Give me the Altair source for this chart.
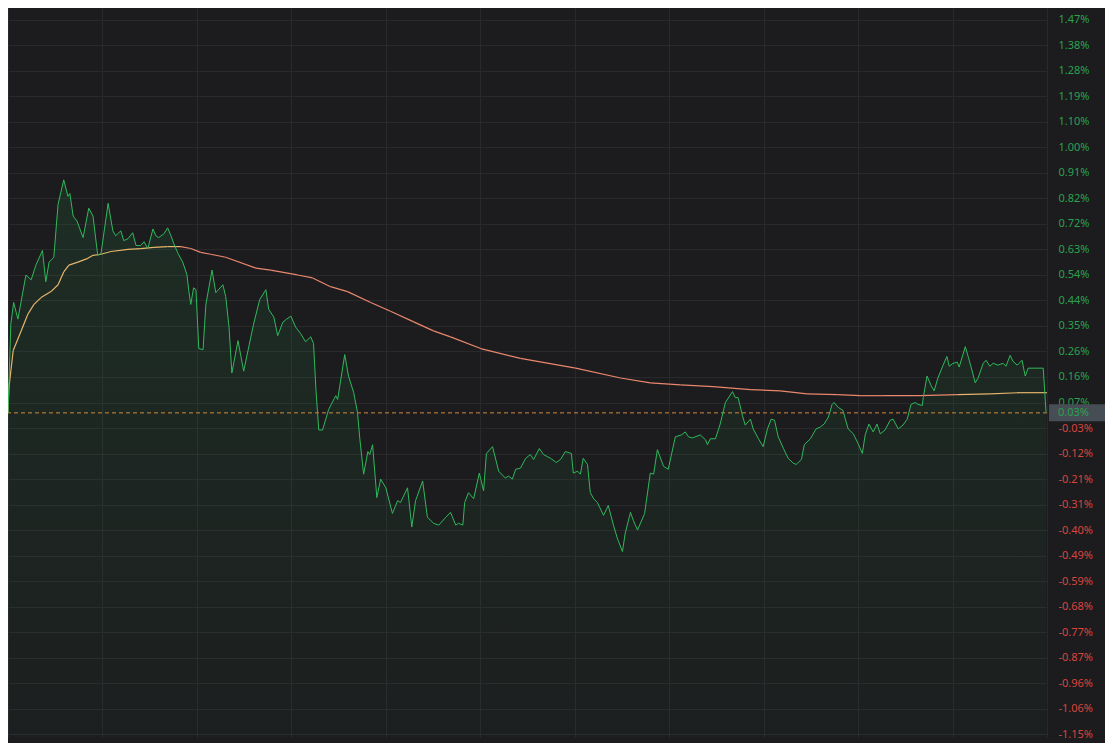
import altair as alt
import numpy as np
import pandas as pd

# ---- data (minutes since open, % change) ----
PRICE_T = [0.0, 0.6, 1.2, 2.1, 3.8, 4.9, 5.9, 7.3, 8.0, 8.7, 9.7, 10.6, 11.8, 12.7, 13.1, 13.8, 14.6, 15.9, 17.1, 18.0,
           19.0, 19.7, 21.2, 22.2, 22.8, 23.9, 24.5, 25.4, 26.4, 27.1, 28.1, 28.8, 29.6, 30.7, 31.3, 31.9, 33.0, 33.8, 34.5, 35.1,
           36.0, 37.0, 37.9, 38.3, 38.7, 39.3, 39.8, 40.4, 41.3, 41.9, 43.2, 44.0, 45.5, 46.1, 46.8, 47.4, 48.7, 49.9, 52.0, 53.3,
           54.6, 55.2, 56.3, 57.1, 58.2, 59.0, 59.9, 60.9, 62.0, 63.0, 64.1, 64.7, 65.2, 65.8, 66.6, 67.9, 69.4, 69.8, 71.3, 72.1,
           73.2, 74.0, 74.5, 75.3, 76.2, 76.6, 77.2, 78.1, 78.9, 80.0, 81.4, 82.5, 83.1, 84.6, 85.5, 86.3, 87.8, 88.8, 90.1, 91.2,
           92.7, 93.7, 94.8, 95.4, 96.3, 96.7, 97.5, 98.6, 99.8, 100.7, 101.3, 102.6, 103.9, 105.3, 106.0, 106.8, 107.5, 108.5, 109.6, 110.6,
           111.3, 112.5, 113.4, 114.9, 116.1, 117.0, 118.0, 119.3, 119.7, 120.6, 121.2, 121.8, 122.7, 123.3, 124.0, 124.8, 126.1, 127.1, 128.2, 129.0,
           130.1, 130.7, 131.8, 132.4, 133.3, 134.8, 136.0, 136.7, 137.5, 138.8, 139.8, 141.3, 142.6, 143.4, 144.1, 144.9, 146.6, 147.7, 148.1, 148.7,
           149.8, 150.8, 151.9, 153.4, 154.0, 154.6, 155.5, 156.1, 157.2, 157.8, 158.9, 159.9, 160.8, 161.6, 162.3, 163.1, 164.2, 165.2, 166.3, 166.9,
           168.0, 168.6, 169.9, 171.1, 172.0, 172.8, 173.7, 174.5, 174.9, 175.8, 176.8, 177.3, 177.9, 179.0, 180.0, 180.9, 181.5, 182.3, 183.2, 184.0,
           184.7, 185.7, 186.8, 187.4, 188.5, 189.5, 190.4, 191.2, 192.1, 192.7, 193.6, 193.8, 194.6, 195.5, 196.1, 196.9, 198.0, 198.8, 199.3, 200.1,
           201.0, 201.4, 202.7, 203.3, 204.1, 204.8, 205.4, 206.5, 207.1, 207.9, 208.6, 209.6, 210.7, 211.3, 212.2, 212.8, 213.7, 214.7, 215.4, 216.0,
           217.0, 218.1, 219.2, 219.8]
PRICE_V = [0.030, 0.356, 0.435, 0.374, 0.536, 0.518, 0.572, 0.626, 0.511, 0.583, 0.601, 0.795, 0.885, 0.824, 0.835, 0.752, 0.734, 0.673, 0.781, 0.752,
           0.608, 0.615, 0.799, 0.698, 0.680, 0.698, 0.662, 0.669, 0.691, 0.644, 0.644, 0.658, 0.633, 0.705, 0.680, 0.673, 0.687, 0.709, 0.680, 0.651,
           0.615, 0.583, 0.536, 0.475, 0.428, 0.489, 0.482, 0.266, 0.262, 0.428, 0.554, 0.471, 0.500, 0.457, 0.345, 0.176, 0.295, 0.183, 0.356, 0.446,
           0.482, 0.410, 0.381, 0.313, 0.363, 0.374, 0.385, 0.345, 0.320, 0.291, 0.309, 0.284, 0.115, -0.033, -0.033, 0.043, 0.093, 0.079, 0.244, 0.165,
           0.104, 0.032, -0.065, -0.195, -0.112, -0.123, -0.087, -0.281, -0.213, -0.245, -0.339, -0.292, -0.299, -0.245, -0.389, -0.292, -0.220, -0.353, -0.375, -0.382,
           -0.353, -0.335, -0.382, -0.375, -0.382, -0.299, -0.263, -0.285, -0.191, -0.256, -0.119, -0.094, -0.184, -0.209, -0.202, -0.213, -0.177, -0.173, -0.137, -0.123,
           -0.141, -0.101, -0.123, -0.137, -0.152, -0.141, -0.112, -0.119, -0.191, -0.184, -0.195, -0.137, -0.159, -0.263, -0.285, -0.299, -0.346, -0.310, -0.382, -0.429,
           -0.479, -0.411, -0.335, -0.364, -0.400, -0.339, -0.191, -0.195, -0.105, -0.166, -0.177, -0.058, -0.051, -0.040, -0.058, -0.062, -0.051, -0.069, -0.087, -0.065,
           -0.065, -0.011, 0.068, 0.108, 0.086, 0.086, 0.021, -0.015, 0.007, -0.029, -0.065, -0.094, -0.029, 0.007, 0.003, -0.058, -0.101, -0.137, -0.155, -0.159,
           -0.141, -0.087, -0.065, -0.029, -0.022, -0.011, 0.014, 0.061, 0.068, 0.050, 0.039, 0.007, -0.029, -0.047, -0.083, -0.119, -0.051, -0.011, -0.040, -0.011,
           -0.047, -0.033, 0.003, 0.007, -0.029, -0.015, 0.007, 0.061, 0.068, 0.061, 0.057, 0.086, 0.165, 0.129, 0.111, 0.158, 0.205, 0.237, 0.201, 0.212,
           0.216, 0.198, 0.273, 0.237, 0.187, 0.140, 0.158, 0.212, 0.223, 0.201, 0.212, 0.205, 0.212, 0.201, 0.241, 0.219, 0.205, 0.223, 0.165, 0.194,
           0.194, 0.194, 0.194, 0.032]

AVG_T = [0.0, 0.2, 1.1, 2.8, 4.2, 5.5, 7.0, 9.1, 10.6, 11.8, 12.9, 14.8, 16.9, 18.0, 19.7, 21.8, 25.4, 28.1, 30.9, 33.8,
         36.6, 38.7, 40.8, 42.9, 46.1, 52.5, 55.6, 61.3, 64.5, 68.3, 71.9, 76.8, 81.0, 85.9, 90.1, 93.7, 100.1, 108.5, 120.2, 129.7,
         136.0, 142.4, 149.3, 157.2, 163.5, 169.2, 175.6, 180.4, 185.3, 193.1, 201.0, 207.9, 214.3, 220.0]
AVG_V = [0.030, 0.122, 0.259, 0.331, 0.392, 0.428, 0.453, 0.475, 0.500, 0.547, 0.572, 0.583, 0.597, 0.608, 0.612, 0.622, 0.630, 0.633, 0.637, 0.640,
         0.640, 0.633, 0.619, 0.612, 0.601, 0.561, 0.554, 0.536, 0.525, 0.493, 0.475, 0.435, 0.403, 0.364, 0.331, 0.309, 0.266, 0.230, 0.194, 0.158,
         0.140, 0.133, 0.126, 0.115, 0.111, 0.100, 0.097, 0.093, 0.093, 0.093, 0.097, 0.100, 0.104, 0.104]

PREV_LEVEL = 0.03
TAG_TEXT = "0.03%"
TICK_VALUES = [1.4720, 1.3784, 1.2848, 1.1912, 1.0976, 1.0040, 0.9104, 0.8168, 0.7232, 0.6296,
               0.5360, 0.4424, 0.3488, 0.2552, 0.1616, 0.0680, -0.0256, -0.1192, -0.2128, -0.3064,
               -0.4000, -0.4936, -0.5872, -0.6808, -0.7744, -0.8680, -0.9616, -1.0552, -1.1488]
X_GRID = [0, 20, 40, 60, 80, 100, 120, 140, 160, 180, 200, 220]
Y_DOMAIN = [-1.1594, 1.5156]
X_DOMAIN = [0, 220]

n = min(len(PRICE_T), len(PRICE_V))
price = pd.DataFrame({"t": PRICE_T[:n], "v": PRICE_V[:n]})
level = pd.DataFrame({"level": [PREV_LEVEL], "label": [TAG_TEXT]})

# colour the average line by whether price is above or below it
g_at = np.interp(AVG_T, price["t"], price["v"])
rows = []
for i in range(len(AVG_T) - 1):
    st = "above" if g_at[i] >= AVG_V[i] else "below"
    rows.append({"t": AVG_T[i], "v": AVG_V[i], "seg": i, "state": st})
    rows.append({"t": AVG_T[i + 1], "v": AVG_V[i + 1], "seg": i, "state": st})
avg = pd.DataFrame(rows)

GREEN = "#2fb85a"
LBL_GREEN = "#2ba24f"
LBL_RED = "#d9443f"
BG = "#1c1c1e"
GRID = "#29292c"

xenc = alt.X("t:Q", scale=alt.Scale(domain=X_DOMAIN, nice=False, zero=False),
             axis=alt.Axis(values=X_GRID, tickCount=len(X_GRID) + 5, labels=False, ticks=False,
                           domain=False, title=None, grid=True, gridColor=GRID, zindex=0))
yenc = alt.Y("v:Q", scale=alt.Scale(domain=Y_DOMAIN, nice=False, zero=False),
             axis=alt.Axis(orient="right", values=TICK_VALUES, tickCount=len(TICK_VALUES) + 10,
                           title=None, ticks=False, tickSize=0,
                           domain=False, grid=True, gridColor=GRID, labelPadding=11,
                           labelAlign="left", labelBaseline="middle", labelFont="Noto Sans",
                           labelFontSize=11, labelOverlap=False, labelBound=False, labelFlush=False,
                           zindex=0,
                           labelExpr="(datum.value < 0 ? '-' : '') + format(abs(datum.value), '.2f') + '%'",
                           labelColor={"condition": {"test": "datum.value < 0", "value": LBL_RED},
                                       "value": LBL_GREEN}))

area = alt.Chart(price).mark_area(
    color=alt.Gradient(gradient="linear",
                       stops=[alt.GradientStop(color="rgba(40,175,85,0.12)", offset=0),
                              alt.GradientStop(color="rgba(40,175,85,0.02)", offset=1)],
                       x1=1, x2=1, y1=0, y2=1)
).encode(x=xenc, y=yenc, y2=alt.datum(Y_DOMAIN[0]))

line = alt.Chart(price).mark_line(color=GREEN, strokeWidth=1).encode(x="t:Q", y="v:Q")

avg_line = alt.Chart(avg).mark_line(strokeWidth=1.2).encode(
    x="t:Q", y="v:Q", detail="seg:N",
    color=alt.Color("state:N", scale=alt.Scale(domain=["above", "below"], range=["#e6b46c", "#ea876c"]),
                    legend=None))

prev_rule = alt.Chart(level).mark_rule(color="#d08a3e", strokeDash=[4, 3], strokeWidth=1).encode(
    y="level:Q")

tag_bg = alt.Chart(level).mark_rule(color="#474d54", strokeWidth=17, strokeCap="butt").encode(
    x=alt.value(1041), x2=alt.value(1110), y="level:Q")
tag_txt = alt.Chart(level).mark_text(align="left", baseline="middle", font="Noto Sans", fontSize=11,
                                     color=LBL_GREEN).encode(
    x=alt.value(1050), y="level:Q", text="label:N")

chart = alt.layer(area, prev_rule, avg_line, line, tag_bg, tag_txt).properties(
    width=1039, height=729, background=BG,
    autosize=alt.AutoSizeParams(type="none"),
    padding={"left": 0, "top": 0, "right": 58, "bottom": 6},
).configure_view(stroke=None)

chart.save("out.html", embed_options={"renderer": "svg", "actions": False})
